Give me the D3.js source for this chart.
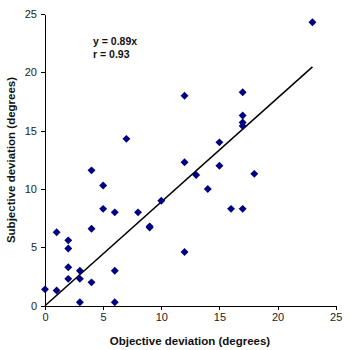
<!DOCTYPE html>
<html><head><meta charset="utf-8">
<script src="https://cdn.jsdelivr.net/npm/d3@7"></script>
<style>body{margin:0;background:#fff;} svg{display:block;}</style>
</head><body>
<svg id="c" width="350" height="350"></svg>
<script>
const objective = [23,17,12,7,17,17,17,15,12,13,15,18,14,16,17,12,4,5,5,6,8,10,9,9,4,1,2,2,2,2,3,3,4,6,0,1,3,6];
const subjective = [24.3,18.3,18,14.3,16.3,15.7,15.4,14,12.3,11.2,12,11.3,10,8.3,8.3,4.6,11.6,10.3,8.3,8,8,9,6.7,6.8,6.6,6.3,5.6,4.9,3.3,2.3,3,2.3,2,3,1.4,1.3,0.3,0.3];
const xTicks = [0,5,10,15,20,25];
const yTicks = [0,5,10,15,20,25];
const slope = 0.89;
const fitRange = [0,23];
const annotation = ["y = 0.89x","r = 0.93"];

const svg = d3.select("#c");
const x = d3.scaleLinear().domain([0,25]).range([45,335.7]);
const y = d3.scaleLinear().domain([0,25]).range([305.7,14]);
const font = "Arial, 'Liberation Sans', sans-serif";

const xa = svg.append("g").attr("transform","translate(0,305.7)")
  .call(d3.axisBottom(x).tickValues(xTicks).tickSize(4).tickPadding(4).tickSizeOuter(0));
const ya = svg.append("g").attr("transform","translate(45,0)")
  .call(d3.axisLeft(y).tickValues(yTicks).tickSize(4).tickPadding(4).tickSizeOuter(0));
[xa,ya].forEach(a=>{
  a.selectAll("path,line").attr("stroke","#000").attr("shape-rendering","crispEdges");
  a.selectAll("text").attr("font-family",font).attr("font-size","11px").attr("fill","#222");
});

svg.append("line")
  .attr("x1",x(fitRange[0])).attr("y1",y(slope*fitRange[0]))
  .attr("x2",x(fitRange[1])).attr("y2",y(slope*fitRange[1]))
  .attr("stroke","#000").attr("stroke-width",1.5);

const pts = objective.map((v,i)=>({x:v,y:subjective[i]}));
svg.append("g").selectAll("path").data(pts).join("path")
  .attr("d",d3.symbol().type(d3.symbolDiamond2 || d3.symbolSquare).size(40))
  .attr("transform",d=>`translate(${x(d.x)},${y(d.y)}) rotate(${d3.symbolDiamond2?0:45})`)
  .attr("fill","#000080");

svg.append("g").selectAll("text").data(annotation).join("text")
  .attr("x",93).attr("y",(d,i)=>45+i*13)
  .attr("font-family",font).attr("font-size","10.5px").attr("font-weight","bold").attr("fill","#111")
  .text(d=>d);

svg.append("text").attr("x",190).attr("y",345).attr("text-anchor","middle")
  .attr("font-family",font).attr("font-size","11.5px").attr("font-weight","bold").attr("fill","#111")
  .text("Objective deviation (degrees)");
svg.append("text").attr("transform","translate(15,160) rotate(-90)").attr("text-anchor","middle")
  .attr("font-family",font).attr("font-size","11.5px").attr("font-weight","bold").attr("fill","#111")
  .text("Subjective deviation (degrees)");
</script>
</body></html>
